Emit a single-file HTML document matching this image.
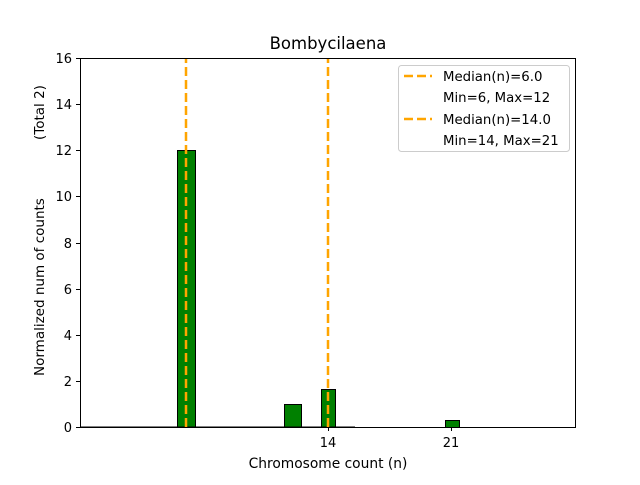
<!DOCTYPE html>
<html><head><style>body{margin:0;background:#fff}</style></head><body>
<svg width="640" height="480" xmlns="http://www.w3.org/2000/svg" font-family="DejaVu Sans, Liberation Sans, sans-serif">
<rect width="640" height="480" fill="#fff"/>
<text x="328" y="49" font-size="16.5" text-anchor="middle">Bombycilaena</text>
<g fill="#008000" stroke="#000" stroke-width="1">
<rect x="177.5" y="150.5" width="18" height="277"/>
<rect x="284.5" y="404.5" width="17" height="23"/>
<rect x="321.5" y="389.5" width="14" height="38"/>
<rect x="445.5" y="420.5" width="14" height="7"/>
</g>
<line x1="80" y1="427" x2="355" y2="427" stroke="#000" stroke-width="1"/>
<g stroke="#ffa500" stroke-width="2.5" stroke-dasharray="9,4">
<line x1="186" y1="427" x2="186" y2="58"/>
<line x1="328" y1="427" x2="328" y2="58"/>
</g>
<rect x="80.5" y="58.5" width="495" height="369" fill="none" stroke="#000" stroke-width="1"/>
<g font-size="13" text-anchor="end">
<g stroke="#000"><line x1="76" y1="427.5" x2="80" y2="427.5"/><line x1="76" y1="381.5" x2="80" y2="381.5"/><line x1="76" y1="335.5" x2="80" y2="335.5"/><line x1="76" y1="289.5" x2="80" y2="289.5"/><line x1="76" y1="243.5" x2="80" y2="243.5"/><line x1="76" y1="196.5" x2="80" y2="196.5"/><line x1="76" y1="150.5" x2="80" y2="150.5"/><line x1="76" y1="104.5" x2="80" y2="104.5"/><line x1="76" y1="58.5" x2="80" y2="58.5"/></g>
<text x="72" y="432">0</text><text x="72" y="386">2</text><text x="72" y="340">4</text><text x="72" y="294">6</text><text x="72" y="248">8</text><text x="72" y="201">10</text><text x="72" y="155">12</text><text x="72" y="109">14</text><text x="72" y="63">16</text>
</g>
<g stroke="#000"><line x1="328.5" y1="427" x2="328.5" y2="431"/><line x1="451.5" y1="427" x2="451.5" y2="431"/></g>
<g font-size="13" text-anchor="middle"><text x="328" y="447">14</text><text x="451" y="447">21</text>
<text x="328" y="468" font-size="13.8">Chromosome count (n)</text></g>
<text transform="translate(44,376) rotate(-90)" font-size="13.5" text-anchor="start">Normalized num of counts</text>
<text transform="translate(44,140) rotate(-90)" font-size="13.5" text-anchor="start">(Total 2)</text>
<rect x="398.5" y="65.5" width="171" height="86" rx="3" fill="#fff" stroke="#ccc"/>
<g stroke="#ffa500" stroke-width="2.5" stroke-dasharray="9,4"><line x1="404" y1="76" x2="432" y2="76"/><line x1="404" y1="119" x2="432" y2="119"/></g>
<g font-size="13.3"><text x="443" y="81">Median(n)=6.0</text><text x="443" y="102">Min=6, Max=12</text><text x="443" y="124">Median(n)=14.0</text><text x="443" y="145">Min=14, Max=21</text></g>
</svg>
</body></html>
